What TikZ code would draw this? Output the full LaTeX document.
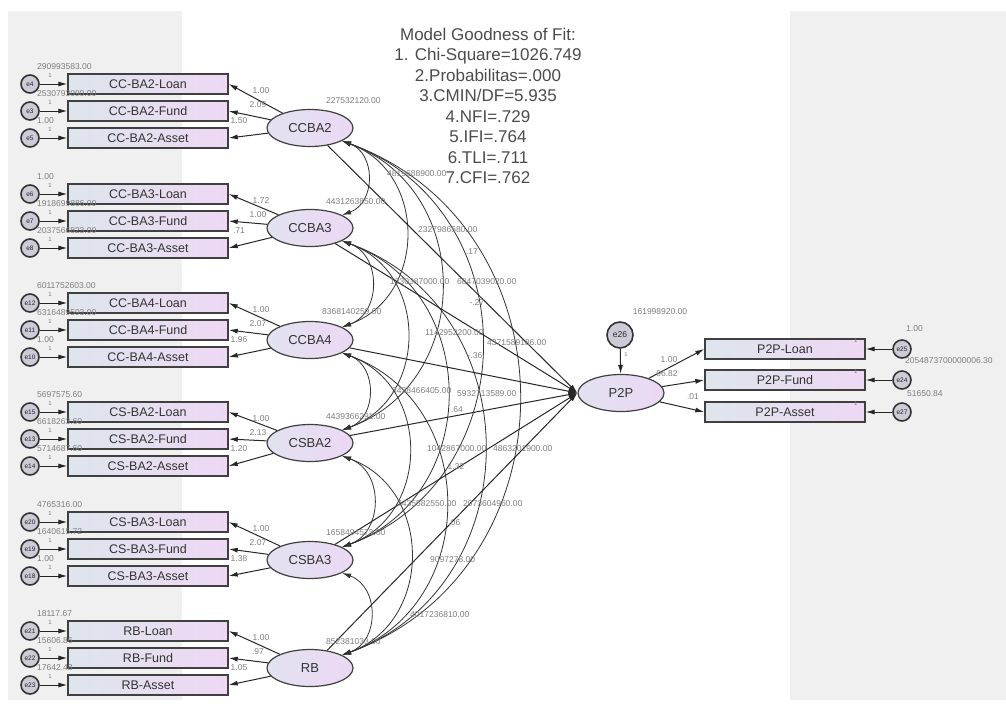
\documentclass[tikz,border=0pt]{standalone}
\usepackage{fontspec}
\setmainfont{Liberation Sans}
\usetikzlibrary{arrows.meta, positioning, shapes.geometric}
\definecolor{panelgray}{RGB}{240,240,240}
\definecolor{boxleft}{RGB}{222,229,237}
\definecolor{boxright}{RGB}{238,216,244}
\definecolor{latleft}{RGB}{226,226,240}
\definecolor{latright}{RGB}{236,216,244}
\definecolor{errfill}{RGB}{205,203,215}
\definecolor{numgray}{RGB}{125,125,125}
\definecolor{fitgray}{RGB}{75,75,75}

\tikzset{
  obsbox/.style={draw=black!75, line width=1.4pt, left color=boxleft, right color=boxright,
    minimum width=160pt, minimum height=20pt, inner sep=0pt,
    font=\fontsize{12.5}{13}\selectfont, text=black!80},
  latent/.style={ellipse, draw=black!75, line width=1.2pt, left color=latleft, right color=latright,
    minimum width=86pt, minimum height=37pt, inner sep=0pt,
    font=\fontsize{13}{14}\selectfont, text=black!80},
  errc/.style={circle, draw=black!80, line width=1.6pt, fill=errfill, minimum size=18pt,
    inner sep=0pt, font=\fontsize{6.5}{7}\selectfont, text=black!85},
  est/.style={font=\fontsize{8.5}{9}\selectfont, text=numgray, inner sep=0pt},
  onelbl/.style={font=\fontsize{6}{6}\selectfont, text=numgray, inner sep=0pt},
  fitbox/.style={align=center, font=\fontsize{17}{20.5}\selectfont, text=fitgray, inner sep=0pt},
  arr/.style={-{Latex[length=9pt,width=5pt]}, line width=1pt, black!85},
  cov/.style={{Latex[length=9pt,width=5pt]}-{Latex[length=9pt,width=5pt]}, line width=0.8pt, black!80},
}

\begin{document}
\begin{tikzpicture}[x=1pt, y=-1pt]
\useasboundingbox (0,0) rectangle (1006,709);
\fill[panelgray] (8,11) rectangle (182,700);
\fill[panelgray] (790,11) rectangle (1006,700);

% fit indices
\node[fitbox] (fit) at (488,106) {Model Goodness of Fit:\\1. Chi-Square=1026.749\\2.Probabilitas=.000\\3.CMIN/DF=5.935\\4.NFI=.729\\5.IFI=.764\\6.TLI=.711\\7.CFI=.762};

% latent variables
\node[latent] (ccba2) at (310,128) {CCBA2};
\node[latent] (ccba3) at (310,228) {CCBA3};
\node[latent] (ccba4) at (310,340) {CCBA4};
\node[latent] (csba2) at (310,443) {CSBA2};
\node[latent] (csba3) at (310,560) {CSBA3};
\node[latent] (rb) at (310,668) {RB};
\node[latent] (p2p) at (621,393) {P2P};
\node[errc, minimum size=26pt, font=\fontsize{8.5}{9}\selectfont] (e26) at (620,335) {e26};

% indicators of the bank variables
\foreach \lat/\pre/\y/\ea/\eb/\ec/\va/\vb/\vc/\wa/\wb/\wc in {
  ccba2/CC-BA2/84/e4/e3/e5/290993583.00/2530793090.00/1.00/1.00/2.09/1.50,
  ccba3/CC-BA3/194/e6/e7/e8/1.00/1918699886.00/2037566823.00/1.72/1.00/.71,
  ccba4/CC-BA4/303/e12/e11/e10/6011752603.00/6316489593.00/1.00/1.00/2.07/1.96,
  csba2/CS-BA2/412/e15/e13/e14/5697575.60/6618263.60/5714687.60/1.00/2.13/1.20,
  csba3/CS-BA3/522/e20/e19/e18/4765316.00/1640615.72/1.00/1.00/2.07/1.38,
  rb/RB/631/e21/e22/e23/18117.67/15606.86/17642.48/1.00/.97/1.05}{
  \node[obsbox] (\lat-l) at (148,\y) {\pre-Loan};
  \node[obsbox] (\lat-f) at (148,{\y+27}) {\pre-Fund};
  \node[obsbox] (\lat-a) at (148,{\y+54}) {\pre-Asset};
  \node[errc] (\lat-el) at (30,\y) {\ea};
  \node[errc] (\lat-ef) at (30,{\y+27}) {\eb};
  \node[errc] (\lat-ea) at (30,{\y+54}) {\ec};
  \foreach \s in {l,f,a} {
    \draw[arr] (\lat-e\s) -- (\lat-\s.west);
    \draw[arr] (\lat) -- (\lat-\s.east);
  }
  \node[est, anchor=west] (\lat-vl) at (37,{\y-17}) {\va};
  \node[est, anchor=west] (\lat-vf) at (37,{\y+10}) {\vb};
  \node[est, anchor=west] (\lat-va) at (37,{\y+37}) {\vc};
  \node[onelbl] (\lat-ol) at (50,{\y-9}) {1};
  \node[onelbl] (\lat-of) at (50,{\y+18}) {1};
  \node[onelbl] (\lat-oa) at (50,{\y+45}) {1};
  \node[est] (\lat-wl) at (261,{\y+7}) {\wa};
  \node[est] (\lat-wf) at (258,{\y+21}) {\wb};
  \node[est] (\lat-wa) at (239,{\y+37}) {\wc};
}

% indicators of P2P
\node[obsbox] (p2p-l) at (785,349) {P2P-Loan};
\node[obsbox] (p2p-f) at (785,380) {P2P-Fund};
\node[obsbox] (p2p-a) at (785,412) {P2P-Asset};
\node[errc] (p2p-el) at (902,349) {e25};
\node[errc] (p2p-ef) at (902,380) {e24};
\node[errc] (p2p-ea) at (902,412) {e27};
\foreach \s in {l,f,a} {
  \draw[arr] (p2p) -- (p2p-\s.west);
  \draw[arr] (p2p-e\s) -- (p2p-\s.east);
  \node[onelbl] at ([xshift=-10pt, yshift=9pt]p2p-\s.east) {1};
}
\draw[arr] (e26) -- (p2p);
\node[onelbl] (e26-one) at (626,354) {1};

% covariances
\foreach \a/\b in {ccba2/ccba3, ccba2/ccba4, ccba2/csba2, ccba2/csba3, ccba2/rb,
  ccba3/ccba4, ccba3/csba2, ccba3/csba3, ccba3/rb,
  ccba4/csba2, ccba4/csba3, ccba4/rb,
  csba2/csba3, csba2/rb, csba3/rb}
  \draw[cov] (\a.-22) to[bend left=70, looseness=1.25] (\b.22);

% paths to P2P
\foreach \a in {ccba2, ccba3, ccba4, csba2, csba3, rb}
  \draw[arr] (\a) -- (p2p.west);

% variances
\node[est, anchor=west] (v-ccba2) at (326,101) {227532120.00};
\node[est, anchor=west] (v-ccba3) at (326,202) {4431263850.00};
\node[est, anchor=west] (v-ccba4) at (322,312) {8368140259.00};
\node[est, anchor=west] (v-csba2) at (326,417) {4439366291.00};
\node[est, anchor=west] (v-csba3) at (326,533) {1658494573.00};
\node[est, anchor=west] (v-rb) at (326,642) {852381033.00};
\node[est] (v-p2p) at (660,312) {161998920.00};
\node[est] (w-p2pl) at (669,360) {1.00};
\node[est] (w-p2pf) at (667,374) {96.82};
\node[est] (w-p2pa) at (693,397) {.01};
\node[est, anchor=west] (v-el) at (906,329) {1.00};
\node[est, anchor=west] (v-ef) at (905,361) {2054873700000006.30};
\node[est, anchor=west] (v-ea) at (907,394) {51650.84};

% covariance estimates
\node[est, anchor=west] (c1) at (387,174) {4819688900.00};
\node[est, anchor=west] (c2) at (418,230) {2327986580.00};
\node[est, anchor=west] (c3) at (390,282) {1330387000.00};
\node[est, anchor=west] (c4) at (457,282) {6847039020.00};
\node[est, anchor=west] (c5) at (425,333) {1142952200.00};
\node[est, anchor=west] (c6) at (487,343) {4371589186.00};
\node[est, anchor=west] (c7) at (392,391) {3438466405.00};
\node[est, anchor=west] (c8) at (457,394) {5932713589.00};
\node[est, anchor=west] (c9) at (427,449) {1042867000.00};
\node[est, anchor=west] (c10) at (493,449) {4863201900.00};
\node[est, anchor=west] (c11) at (397,504) {7435582550.00};
\node[est, anchor=west] (c12) at (463,504) {2973604960.00};
\node[est, anchor=west] (c13) at (430,560) {9097278.00};
\node[est, anchor=west] (c14) at (410,615) {4017236810.00};

% regression weights
\node[est] (r1) at (472,252) {.17};
\node[est] (r2) at (477,303) {-.27};
\node[est] (r3) at (475,356) {-.36};
\node[est] (r4) at (457,410) {.64};
\node[est] (r5) at (456,467) {1.32};
\node[est] (r6) at (453,523) {-.06};
\end{tikzpicture}
\end{document}
